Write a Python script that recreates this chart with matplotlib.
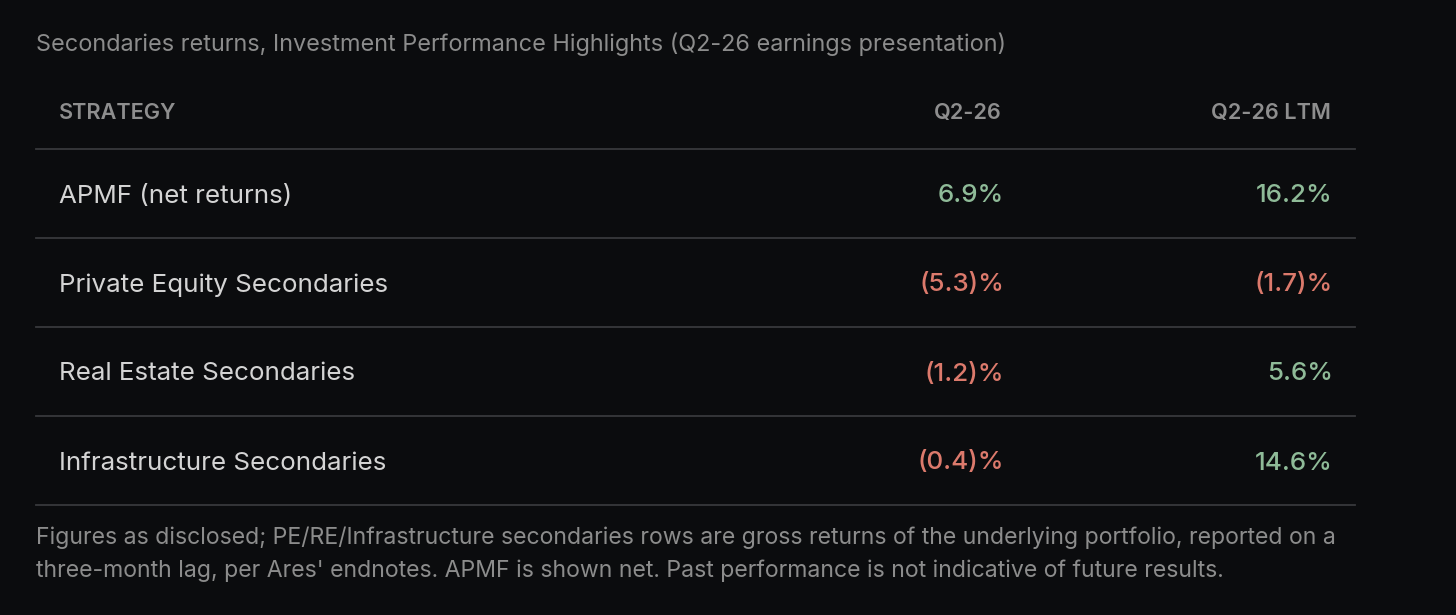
import matplotlib
matplotlib.use("Agg")
import matplotlib.pyplot as plt

# ==========================================
# 1) data
# ==========================================
title = "Secondaries returns, Investment Performance Highlights (Q2-26 earnings presentation)"
columns = ["STRATEGY", "Q2-26", "Q2-26 LTM"]
strategies = [
    "APMF (net returns)",
    "Private Equity Secondaries",
    "Real Estate Secondaries",
    "Infrastructure Secondaries",
]
q2_26 = [6.9, -5.3, -1.2, -0.4]
q2_26_ltm = [16.2, -1.7, 5.6, 14.6]
footnote = [
    "Figures as disclosed; PE/RE/Infrastructure secondaries rows are gross returns of the underlying portfolio, reported on a",
    "three-month lag, per Ares' endnotes. APMF is shown net. Past performance is not indicative of future results.",
]

# ==========================================
# 2) style
# ==========================================
BG = "#0b0c0e"
LINE = "#38393c"
TITLE_C = "#8c8c8c"
HEAD_C = "#8e8e8e"
ROW_C = "#d4d4d4"
POS_C = "#8fbb98"
NEG_C = "#dc7a6c"
FONT = ["Inter", "DejaVu Sans"]


def fmt(v):
    if v < 0:
        return f"({abs(v):.1f})%"
    return f"{v:.1f}%"


W, H = 1456, 615
fig = plt.figure(figsize=(W / 100, H / 100), dpi=100, facecolor=BG)
ax = fig.add_axes([0, 0, 1, 1])
ax.set_facecolor(BG)
ax.set_xlim(0, W)
ax.set_ylim(H, 0)
ax.axis("off")

left, right = 36, 1355
x_label = 59
x_cols = [1002, 1331]
row_h = 89
line_top = 149

ax.text(left, 44, title, color=TITLE_C, fontsize=16.9, family=FONT,
        va="center", ha="left")

# header
ax.text(x_label, 113, columns[0], color=HEAD_C, fontsize=15.6, family=FONT,
        fontweight="semibold", va="center", ha="left")
for xc, name in zip(x_cols, columns[1:]):
    ax.text(xc, 113, name, color=HEAD_C, fontsize=15.6, family=FONT,
            fontweight="semibold", va="center", ha="right")

# rows
for i, name in enumerate(strategies):
    y_line = line_top + i * row_h
    ax.plot([left, right], [y_line, y_line], color=LINE, lw=1.3)
    yc = y_line + row_h / 2 + 2.5
    ax.text(x_label, yc, name, color=ROW_C, fontsize=18.7, family=FONT,
            va="center", ha="left")
    for xc, v in zip(x_cols, [q2_26[i], q2_26_ltm[i]]):
        ax.text(xc + 2, yc, fmt(v), color=POS_C if v >= 0 else NEG_C,
                fontsize=18.7, family=FONT, fontweight="medium",
                va="center", ha="right")
y_last = line_top + len(strategies) * row_h
ax.plot([left, right], [y_last, y_last], color=LINE, lw=1.3)

# footnote
for k, line in enumerate(footnote):
    ax.text(left, 538 + k * 33, line, color=TITLE_C, fontsize=16.6,
            family=FONT, va="center", ha="left")

fig.savefig("out.png", dpi=100, facecolor=BG)
